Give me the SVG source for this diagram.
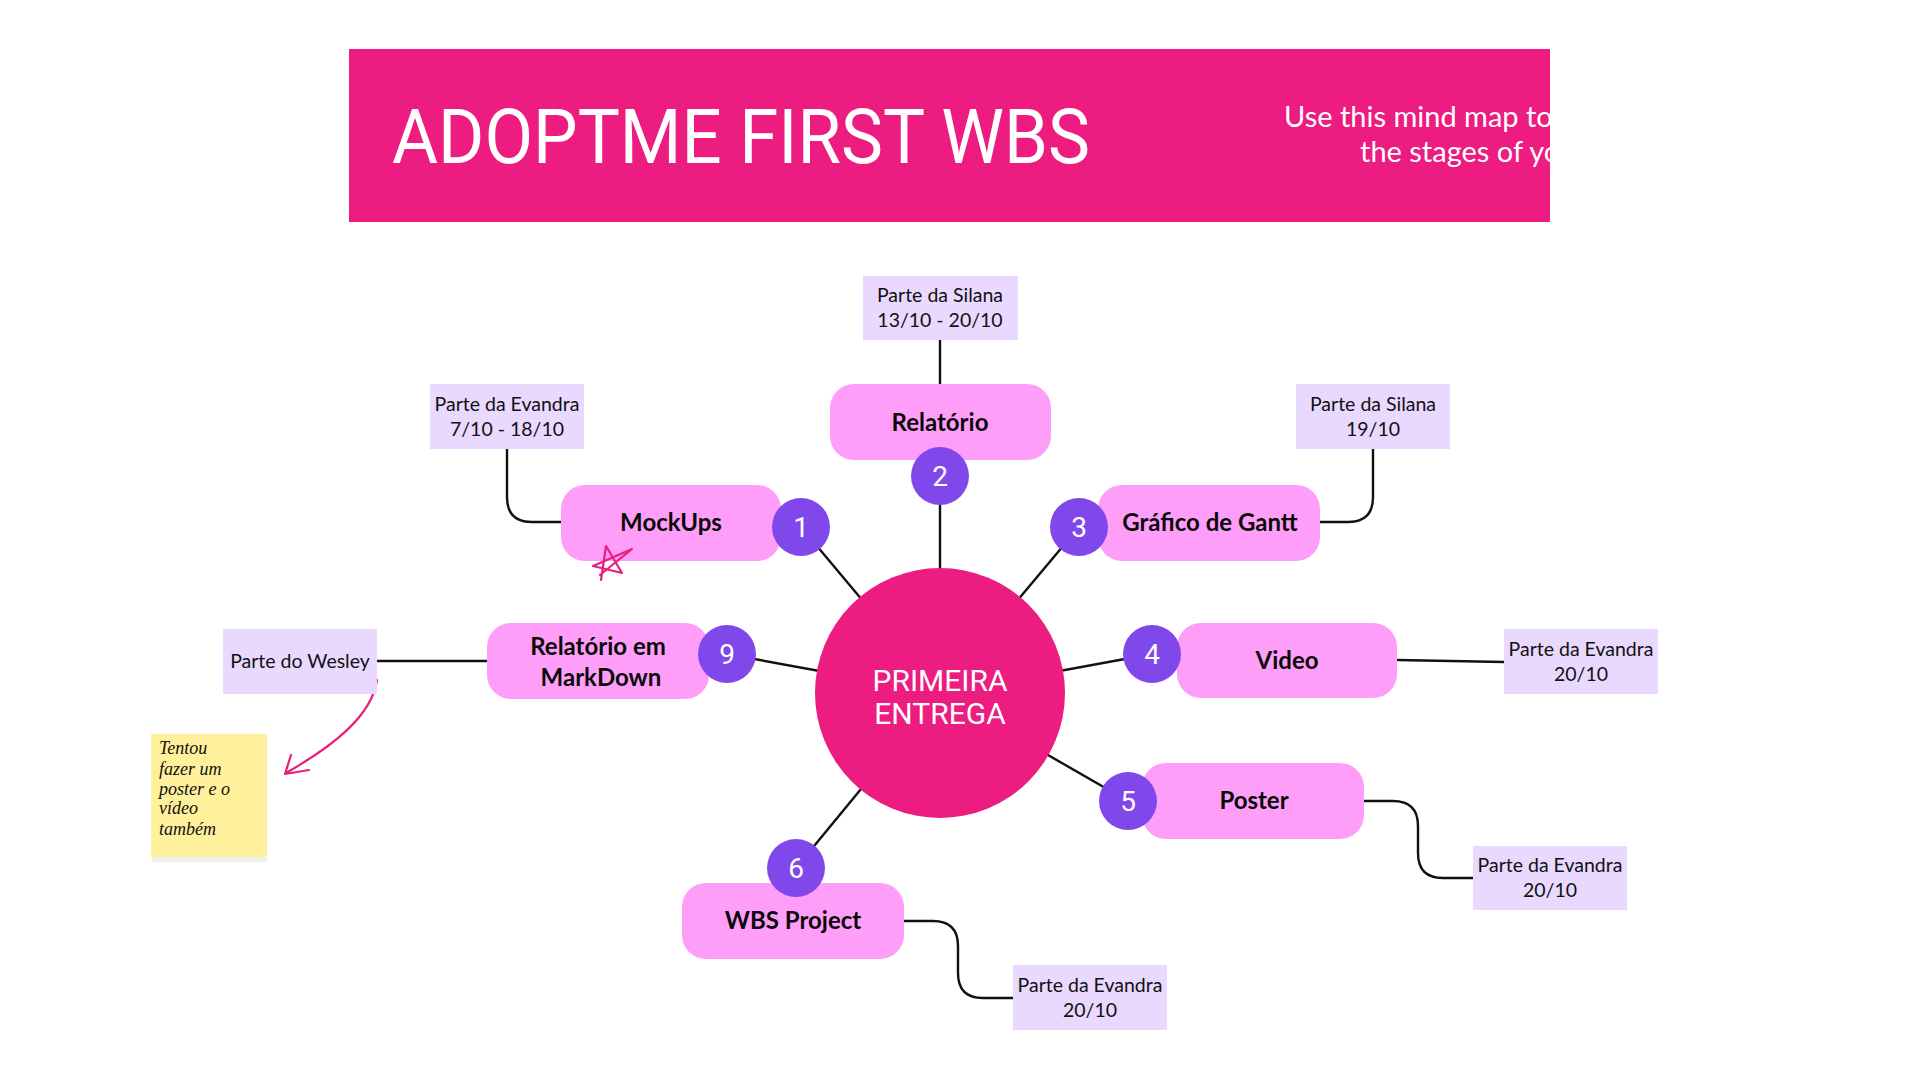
<svg xmlns="http://www.w3.org/2000/svg" width="1920" height="1080" viewBox="0 0 1920 1080">
<style>
.node{fill:#FF9EF9}
.num{fill:#8048EB}
.lbl{fill:#EAD9FF}
.conn{stroke:#111;stroke-width:2.4;fill:none}
.nt{font-family:Lato,"Noto Sans",sans-serif;font-weight:700;font-size:24px;fill:#0a0a0a;text-anchor:middle}
.lt{font-family:Lato,"Noto Sans",sans-serif;font-size:19.5px;fill:#111;text-anchor:middle}
.nn{font-family:Roboto,"DejaVu Sans",sans-serif;font-size:28px;fill:#fff;text-anchor:middle}
.st{font-family:"Liberation Serif",serif;font-style:italic;font-size:18px;fill:#111}
.ct{font-family:Roboto,"DejaVu Sans",sans-serif;font-size:30px;fill:#fff;text-anchor:middle}
</style>
<defs>
<clipPath id="bc"><rect x="349" y="49" width="1201" height="173"/></clipPath>
</defs>
<rect width="1920" height="1080" fill="#fff"/>
<g id="banner">
<rect x="349" y="49" width="1201" height="173" fill="#EC1C80"/>
<text x="392" y="163" font-family="Roboto,'DejaVu Sans',sans-serif" font-size="76" fill="#fff" textLength="698" lengthAdjust="spacingAndGlyphs">ADOPTME FIRST WBS</text>
<g clip-path="url(#bc)" font-family="Lato,'Noto Sans',sans-serif" font-size="29" fill="#fff">
<text x="1284" y="127">Use this mind map to</text>
<text x="1360" y="162">the stages of yo</text>
</g>
</g>
<g id="connectors">
<line class="conn" x1="940" y1="693" x2="801" y2="527"/>
<line class="conn" x1="940" y1="693" x2="940" y2="476"/>
<line class="conn" x1="940" y1="693" x2="1079" y2="527"/>
<line class="conn" x1="940" y1="693" x2="1152" y2="654"/>
<line class="conn" x1="940" y1="693" x2="1128" y2="801"/>
<line class="conn" x1="940" y1="693" x2="796" y2="868"/>
<line class="conn" x1="940" y1="693" x2="727" y2="654"/>
<path class="conn" d="M561,522 H532 Q507,522 507,497 V449"/>
<path class="conn" d="M940,384 V340"/>
<path class="conn" d="M1320,522 H1348 Q1373,522 1373,497 V449"/>
<path class="conn" d="M1397,660 L1504,662"/>
<path class="conn" d="M1364,801 H1393 Q1418,801 1418,826 V853 Q1418,878 1443,878 H1473"/>
<path class="conn" d="M904,921 H933 Q958,921 958,946 V973 Q958,998 983,998 H1013"/>
<path class="conn" d="M377,661 H487"/>
<path d="M377,680 C372,715 335,745 286,773 M291,755 L285,774 L309,770" fill="none" stroke="#E91E7D" stroke-width="2.2" stroke-linecap="round" stroke-linejoin="round"/>
</g>
<g id="center">
<circle cx="940" cy="693" r="125" fill="#EC1C80"/>
<text class="ct" x="940" y="691">PRIMEIRA</text>
<text class="ct" x="940" y="724">ENTREGA</text>
</g>
<g id="node-mockups">
<rect class="node" x="561" y="485" width="220" height="76" rx="24"/>
<text class="nt" x="671" y="531">MockUps</text>
</g>
<g id="node-relatorio">
<rect class="node" x="830" y="384" width="221" height="76" rx="24"/>
<text class="nt" x="940" y="431">Relatório</text>
</g>
<g id="node-gantt">
<rect class="node" x="1098" y="485" width="222" height="76" rx="24"/>
<text class="nt" x="1210" y="531">Gráfico de Gantt</text>
</g>
<g id="node-video">
<rect class="node" x="1177" y="623" width="220" height="75" rx="24"/>
<text class="nt" x="1287" y="669">Video</text>
</g>
<g id="node-poster">
<rect class="node" x="1142" y="763" width="222" height="76" rx="24"/>
<text class="nt" x="1254" y="809">Poster</text>
</g>
<g id="node-wbs">
<rect class="node" x="682" y="883" width="222" height="76" rx="24"/>
<text class="nt" x="793" y="929">WBS Project</text>
</g>
<g id="node-markdown">
<rect class="node" x="487" y="623" width="222" height="76" rx="24"/>
<text class="nt" x="598" y="655">Relatório em</text>
<text class="nt" x="601" y="686">MarkDown</text>
</g>
<g id="num-1"><circle class="num" cx="801" cy="527" r="29"/><text class="nn" x="801" y="537">1</text></g>
<g id="num-2"><circle class="num" cx="940" cy="476" r="29"/><text class="nn" x="940" y="486">2</text></g>
<g id="num-3"><circle class="num" cx="1079" cy="527" r="29"/><text class="nn" x="1079" y="537">3</text></g>
<g id="num-4"><circle class="num" cx="1152" cy="654" r="29"/><text class="nn" x="1152" y="664">4</text></g>
<g id="num-5"><circle class="num" cx="1128" cy="801" r="29"/><text class="nn" x="1128" y="811">5</text></g>
<g id="num-6"><circle class="num" cx="796" cy="868" r="29"/><text class="nn" x="796" y="878">6</text></g>
<g id="num-9"><circle class="num" cx="727" cy="654" r="29"/><text class="nn" x="727" y="664">9</text></g>
<g id="label-silana-1">
<rect class="lbl" x="863" y="276" width="155" height="64"/>
<text class="lt" x="940" y="302">Parte da Silana</text>
<text class="lt" x="940" y="327">13/10 - 20/10</text>
</g>
<g id="label-evandra-1">
<rect class="lbl" x="430" y="384" width="154" height="65"/>
<text class="lt" x="507" y="411">Parte da Evandra</text>
<text class="lt" x="507" y="436">7/10 - 18/10</text>
</g>
<g id="label-silana-2">
<rect class="lbl" x="1296" y="384" width="154" height="65"/>
<text class="lt" x="1373" y="411">Parte da Silana</text>
<text class="lt" x="1373" y="436">19/10</text>
</g>
<g id="label-evandra-video">
<rect class="lbl" x="1504" y="629" width="154" height="65"/>
<text class="lt" x="1581" y="656">Parte da Evandra</text>
<text class="lt" x="1581" y="681">20/10</text>
</g>
<g id="label-evandra-poster">
<rect class="lbl" x="1473" y="846" width="154" height="64"/>
<text class="lt" x="1550" y="872">Parte da Evandra</text>
<text class="lt" x="1550" y="897">20/10</text>
</g>
<g id="label-evandra-wbs">
<rect class="lbl" x="1013" y="965" width="154" height="65"/>
<text class="lt" x="1090" y="992">Parte da Evandra</text>
<text class="lt" x="1090" y="1017">20/10</text>
</g>
<g id="label-wesley">
<rect class="lbl" x="223" y="629" width="154" height="65"/>
<text class="lt" x="300" y="668">Parte do Wesley</text>
</g>
<g id="sticky">
<rect x="152" y="738" width="115" height="124" fill="#E8E8E8" opacity="0.7"/>
<rect x="151" y="734" width="116" height="123" fill="#FFF09C"/>
<text class="st" x="159" y="754">Tentou</text>
<text class="st" x="159" y="775">fazer um</text>
<text class="st" x="159" y="795">poster e o</text>
<text class="st" x="159" y="814">vídeo</text>
<text class="st" x="159" y="835">também</text>
</g>
<g id="star">
<path d="M601,580 L606,546 L622,573 L593,566 L632,549 L600,575" fill="none" stroke="#E91E7D" stroke-width="2.2" stroke-linecap="round" stroke-linejoin="round"/>
</g>
</svg>
